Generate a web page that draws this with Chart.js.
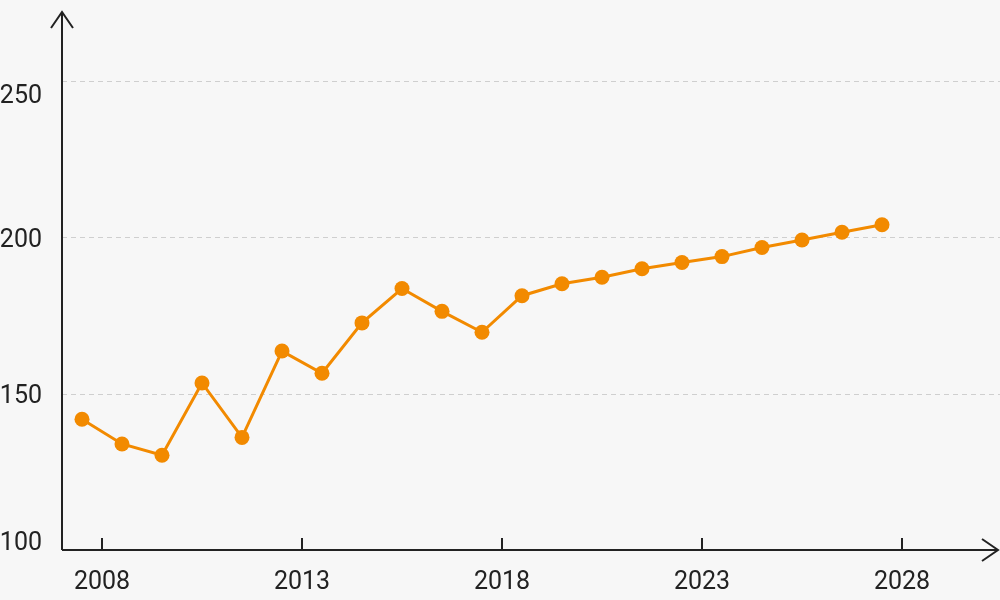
<!DOCTYPE html>
<html>
<head>
<meta charset="utf-8">
<script src="https://cdn.jsdelivr.net/npm/chart.js@4"></script>
<style>
  html, body { margin: 0; padding: 0; background: #f7f7f7; }
  canvas { display: block; }
</style>
</head>
<body>
<canvas id="chart" width="1000" height="600"></canvas>
<script>
// values, one per year
const years = [2007, 2008, 2009, 2010, 2011, 2012, 2013, 2014, 2015, 2016, 2017,
               2018, 2019, 2020, 2021, 2022, 2023, 2024, 2025, 2026, 2027];
const values = [141.8, 133.9, 130.3, 153.4, 136.0, 163.6, 156.5, 172.6, 183.6, 176.3, 169.6,
                181.3, 185.1, 187.2, 189.9, 191.9, 193.8, 196.7, 199.1, 201.6, 204.0];
const xTicks = [2008, 2013, 2018, 2023, 2028];
const yTicks = [100, 150, 200, 250];

const ink = '#222222';
const orange = '#f28a00';

// axes, arrows, ticks and labels are drawn by hand
const axesPlugin = {
    id: 'axes',
    beforeDatasetsDraw(chart) {
        const ctx = chart.ctx, y = chart.scales.y, area = chart.chartArea;
        ctx.save();
        ctx.strokeStyle = '#cfcfcf';
        ctx.lineWidth = 1;
        ctx.setLineDash([5, 4]);
        yTicks.forEach(v => {
            if (v === y.min) return;
            const py = Math.round(y.getPixelForValue(v)) + 0.5;
            ctx.beginPath();
            ctx.moveTo(area.left, py);
            ctx.lineTo(chart.width, py);
            ctx.stroke();
        });
        ctx.restore();
    },
    afterDraw(chart) {
        const ctx = chart.ctx, x = chart.scales.x, y = chart.scales.y, area = chart.chartArea;
        ctx.save();
        ctx.strokeStyle = ink;
        ctx.lineWidth = 2;
        ctx.lineCap = 'butt';

        // y axis with arrow
        ctx.beginPath();
        ctx.moveTo(area.left, area.bottom);
        ctx.lineTo(area.left, area.top);
        ctx.stroke();
        ctx.beginPath();
        ctx.moveTo(area.left - 11, area.top + 16);
        ctx.lineTo(area.left, area.top);
        ctx.lineTo(area.left + 11, area.top + 16);
        ctx.stroke();

        // x axis with arrow
        const xEnd = chart.width - 2;
        ctx.beginPath();
        ctx.moveTo(area.left, area.bottom);
        ctx.lineTo(xEnd, area.bottom);
        ctx.stroke();
        ctx.beginPath();
        ctx.moveTo(xEnd - 16, area.bottom - 11);
        ctx.lineTo(xEnd, area.bottom);
        ctx.lineTo(xEnd - 16, area.bottom + 11);
        ctx.stroke();

        // x ticks point up into the plot
        ctx.fillStyle = ink;
        ctx.font = '25px Roboto';
        ctx.textAlign = 'center';
        ctx.textBaseline = 'alphabetic';
        xTicks.forEach(v => {
            const px = Math.round(x.getPixelForValue(v));
            ctx.beginPath();
            ctx.moveTo(px, area.bottom);
            ctx.lineTo(px, area.bottom - 12);
            ctx.stroke();
            ctx.fillText(String(v), px, area.bottom + 39);
        });

        // y labels, nudged like the original
        ctx.textAlign = 'right';
        const nudge = { 100: 0, 150: 9.5, 200: 9.5, 250: 22 };
        yTicks.forEach(v => {
            ctx.fillText(String(v), area.left - 20, y.getPixelForValue(v) + (nudge[v] || 0));
        });
        ctx.restore();
    }
};

new Chart(document.getElementById('chart'), {
    type: 'line',
    data: {
        datasets: [{
            data: years.map((yr, i) => ({ x: yr + 0.5, y: values[i] })),
            borderColor: orange,
            backgroundColor: orange,
            borderWidth: 3,
            pointRadius: 7.5,
            pointHoverRadius: 7.5,
            pointBorderWidth: 0,
            tension: 0
        }]
    },
    options: {
        responsive: false,
        animation: false,
        layout: { autoPadding: false, padding: { left: 62, top: 12, right: 0, bottom: 50 } },
        plugins: { legend: { display: false }, tooltip: { enabled: false } },
        scales: {
            x: { type: 'linear', display: false, min: 2007, max: 2030.45 },
            y: { type: 'linear', display: false, min: 100, max: 272 }
        }
    },
    plugins: [axesPlugin]
});
</script>
</body>
</html>
